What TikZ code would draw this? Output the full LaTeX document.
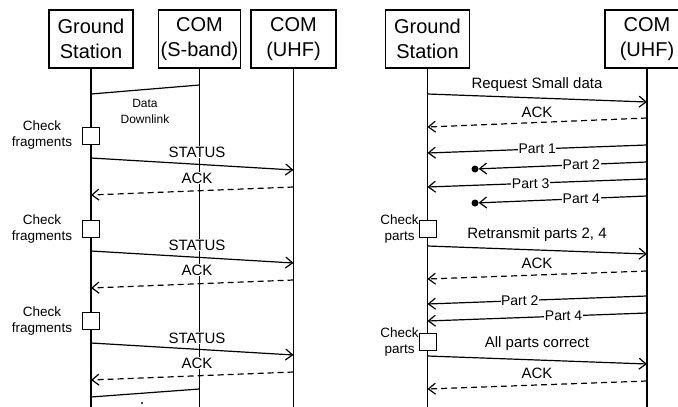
\documentclass[tikz,border=0pt]{standalone}
\usepackage{fontspec}
\setmainfont{Liberation Sans}
\usetikzlibrary{arrows.meta}
\tikzset{
  actor/.style={draw, line width=1.4pt, minimum width=84pt, minimum height=58pt,
    align=center, inner sep=0pt, font=\fontsize{20}{25}\selectfont},
  lifeline/.style={line width=1.5pt},
  msg/.style={line width=1.2pt, -{Straight Barb[length=7pt,width=11pt]}},
  reply/.style={msg, dash pattern=on 6pt off 4pt},
  plainmsg/.style={line width=1.2pt},
  lbl/.style={fill=white, inner sep=1pt, font=\fontsize{15}{17}\selectfont},
  partlbl/.style={fill=white, inner sep=0.5pt, font=\fontsize{14}{16}\selectfont},
  notelbl/.style={align=center, inner sep=0pt, font=\fontsize{13.5}{16}\selectfont},
  checkbox/.style={draw, fill=white, line width=1.2pt, minimum size=17pt, inner sep=0pt},
  lost/.style={circle, fill=black, minimum size=7pt, inner sep=0pt},
}
\begin{document}
\begin{tikzpicture}[x=1pt, y=-1pt]
\useasboundingbox (0,0) rectangle (678,407);
\clip (0,0) rectangle (678,407);

% ---------------- left: bulk downlink over S-band ----------------
\node[actor] (gsL)  at (91,39)    {Ground\\Station};
\node[actor, minimum width=82pt] (sb) at (199.5,39) {COM\\(S-band)};
\node[actor, minimum width=85pt] (uhfL) at (293.5,39) {COM\\(UHF)};

\draw[lifeline] (gsL.south) -- (gsL.south |- 0,407);
\draw[lifeline] (sb.south)  -- (sb.south |- 0,407);
\draw[lifeline] (uhfL.south) -- (uhfL.south |- 0,407);

% data downlink
\draw[plainmsg] (sb |- 0,85) -- (gsL |- 0,94);
\node[align=center, inner sep=0pt, font=\fontsize{12}{16}\selectfont] (dd) at (145,111) {Data\\Downlink};

% round 1
\draw[msg]   (gsL |- 0,158) -- (uhfL |- 0,170);
\draw[reply] (uhfL |- 0,187) -- (gsL |- 0,195);
\node[lbl] (st1) at (197,152) {STATUS};
\node[lbl] (ak1) at (197,178) {ACK};
\node[checkbox] (cf1) at (91,136) {};
\node[notelbl] (cf1t) at (42,135) {Check\\fragments};

% round 2
\draw[msg]   (gsL |- 0,251) -- (uhfL |- 0,263);
\draw[reply] (uhfL |- 0,280) -- (gsL |- 0,288);
\node[lbl] (st2) at (197,245) {STATUS};
\node[lbl] (ak2) at (197,270) {ACK};
\node[checkbox] (cf2) at (91,229) {};
\node[notelbl] (cf2t) at (42,229) {Check\\fragments};

% round 3
\draw[msg]   (gsL |- 0,343) -- (uhfL |- 0,355);
\draw[reply] (uhfL |- 0,372) -- (gsL |- 0,380);
\node[lbl] (st3) at (197,338) {STATUS};
\node[lbl] (ak3) at (197,363) {ACK};
\node[checkbox] (cf3) at (91,321) {};
\node[notelbl] (cf3t) at (42,321) {Check\\fragments};

% next downlink
\draw[plainmsg] (sb |- 0,389) -- (gsL |- 0,397);
\fill (142,403) circle (1.1pt);

% ---------------- right: small data over UHF ----------------
\node[actor] (gsR)  at (427.5,39) {Ground\\Station};
\node[actor] (uhfR) at (647,39)   {COM\\(UHF)};

\draw[lifeline] (gsR.south)  -- (gsR.south |- 0,407);
\draw[lifeline] (uhfR.south) -- (uhfR.south |- 0,407);

\draw[msg]   (gsR |- 0,94) -- (uhfR |- 0,102);
\node[lbl] (req) at (537,85) {Request Small data};
\draw[reply] (uhfR |- 0,118) -- (gsR |- 0,127);
\node[lbl] (ak4) at (537,112) {ACK};

\node[lost] (lost2) at (475,169) {};
\node[lost] (lost4) at (475,203) {};
\draw[msg] (uhfR |- 0,145) -- node[partlbl, pos=0.5]  {Part 1} (gsR |- 0,153);
\draw[msg] (uhfR |- 0,162) -- node[partlbl, pos=0.39] {Part 2} (lost2);
\draw[msg] (uhfR |- 0,179) -- node[partlbl, pos=0.53] {Part 3} (gsR |- 0,187);
\draw[msg] (uhfR |- 0,196) -- node[partlbl, pos=0.39] {Part 4} (lost4);

\node[checkbox] (cp1) at (428,229) {};
\node[notelbl, anchor=east] (cp1t) at (cp1.west) {Check\\parts};

\draw[msg]   (gsR |- 0,246) -- (uhfR |- 0,254);
\node[lbl] (retx) at (537,235) {Retransmit parts 2, 4};
\draw[reply] (uhfR |- 0,271) -- (gsR |- 0,279);
\node[lbl] (ak5) at (537,263) {ACK};

\draw[msg] (uhfR |- 0,296) -- node[partlbl, pos=0.58] {Part 2} (gsR |- 0,304);
\draw[msg] (uhfR |- 0,313) -- node[partlbl, pos=0.38] {Part 4} (gsR |- 0,321);

\node[checkbox] (cp2) at (428,342) {};
\node[notelbl, anchor=east] (cp2t) at (cp2.west) {Check\\parts};

\node[lbl] (ok) at (537,344) {All parts correct};
\draw[msg]   (gsR |- 0,356) -- (uhfR |- 0,364);
\draw[reply] (uhfR |- 0,381) -- (gsR |- 0,389);
\node[lbl] (ak6) at (537,373) {ACK};
\end{tikzpicture}
\end{document}
